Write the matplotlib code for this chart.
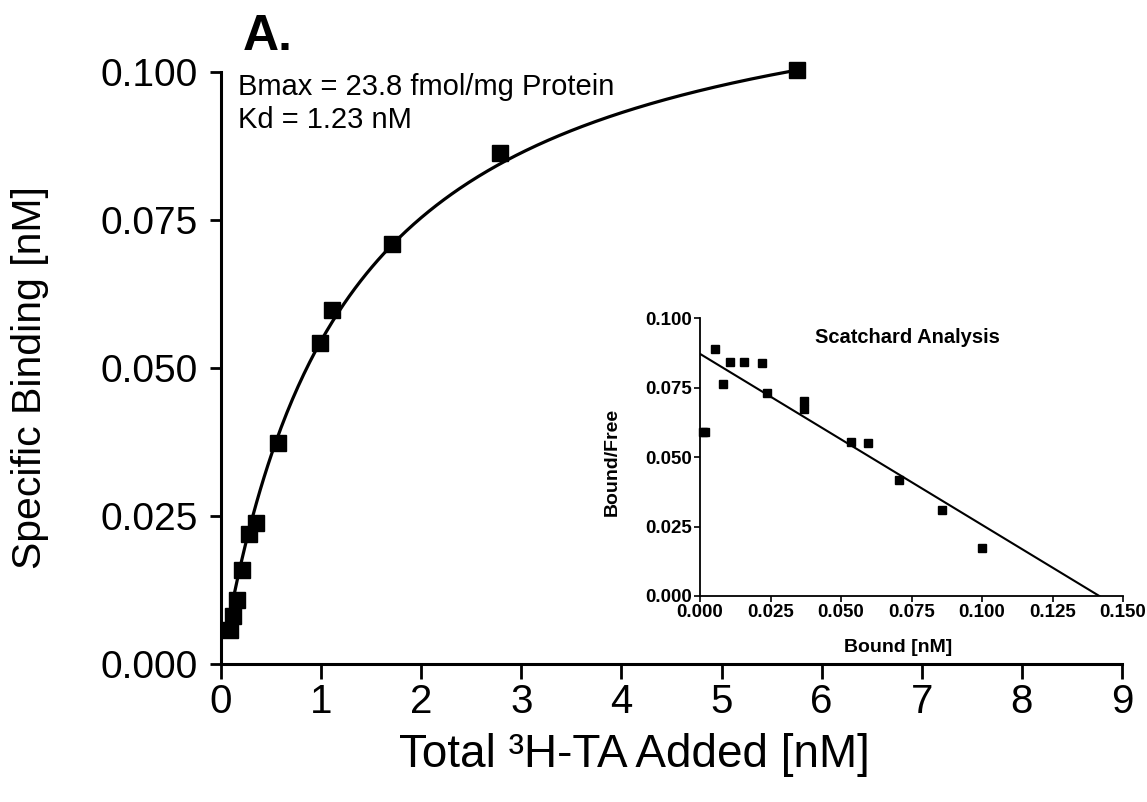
import matplotlib
matplotlib.use("Agg")
import matplotlib.pyplot as plt
import numpy as np

plt.rcParams["font.family"] = ["Liberation Sans", "DejaVu Sans"]

# saturation data (main panel)
total_added = [0.09, 0.12, 0.16, 0.21, 0.28, 0.35, 0.57, 0.99, 1.11, 1.71, 2.79, 5.75]
specific_bound = [0.0058, 0.0081, 0.0108, 0.0158, 0.0220, 0.0239, 0.0373,
                  0.0543, 0.0598, 0.0709, 0.0863, 0.1003]
kd = 1.23  # nM, from the fit text

# scatchard data (inset)
bound = [0.0009, 0.0019, 0.0054, 0.0081, 0.0107, 0.0156, 0.0219, 0.0237,
         0.0370, 0.0370, 0.0537, 0.0594, 0.0705, 0.0858, 0.1000]
bound_free = [0.0591, 0.0591, 0.0888, 0.0763, 0.0843, 0.0843, 0.0837, 0.0732,
              0.0703, 0.0673, 0.0555, 0.0549, 0.0417, 0.0309, 0.0173]
scatchard_intercept = 0.0871   # y at bound = 0
scatchard_xint = 0.1416        # bound at y = 0

x_ticks = list(range(0, 10))
y_ticks = [0.000, 0.025, 0.050, 0.075, 0.100]
inset_x_ticks = [0.000, 0.025, 0.050, 0.075, 0.100, 0.125, 0.150]
inset_y_ticks = [0.000, 0.025, 0.050, 0.075, 0.100]

# one-site fit y = B x / (Kd + x), B by least squares
xs = np.array(total_added)
ys = np.array(specific_bound)
f = xs / (kd + xs)
bmax = (f @ ys) / (f @ f)
xc = np.linspace(xs.min(), xs.max(), 300)
yc = bmax * xc / (kd + xc)

fig = plt.figure(figsize=(11.47, 8.02), dpi=100)
ax = fig.add_axes([221 / 1147, 1 - 664 / 802, 901 / 1147, 592 / 802])

ax.plot(xc, yc, color="black", lw=2.3, clip_on=False)
ax.plot(total_added, specific_bound, "s", color="black", ms=11, clip_on=False)

ax.set_xlim(0, 9)
ax.set_ylim(0, 0.1)
ax.set_xticks(x_ticks)
ax.set_yticks(y_ticks)
ax.set_yticklabels(["%.3f" % v for v in y_ticks])
for s in ["top", "right"]:
    ax.spines[s].set_visible(False)
for s in ["left", "bottom"]:
    ax.spines[s].set_linewidth(2.2)
ax.tick_params(axis="y", direction="out", length=8, width=2, labelsize=28, pad=9)
ax.tick_params(axis="x", direction="out", length=11, width=2, labelsize=29, pad=3)

fig.text(30 / 1147, 1 - 378 / 802, "Specific Binding [nM]", rotation=90,
         ha="center", va="center", fontsize=29.5)
fig.text(634 / 1147, 1 - 755 / 802, "Total \u00b3H-TA Added [nM]",
         ha="center", va="center", fontsize=33)
fig.text(243 / 1147, 1 - 50 / 802, "A.", fontsize=36, fontweight="bold",
         ha="left", va="baseline")
fig.text(238 / 1147, 1 - 95 / 802, "Bmax = 23.8 fmol/mg Protein", fontsize=21,
         ha="left", va="baseline")
fig.text(238 / 1147, 1 - 128 / 802, "Kd = 1.23 nM", fontsize=21,
         ha="left", va="baseline")

# inset: scatchard
ins = fig.add_axes([700 / 1147, 1 - 596 / 802, 423 / 1147, 278 / 802])
ins.patch.set_alpha(0)
lx = np.array([0.0, scatchard_xint])
ins.plot(lx, scatchard_intercept * (1 - lx / scatchard_xint), color="black", lw=1.5)
ins.plot(bound, bound_free, "s", color="black", ms=5.5, clip_on=False)
ins.set_xlim(0, 0.15)
ins.set_ylim(0, 0.1)
ins.set_xticks(inset_x_ticks)
ins.set_xticklabels(["%.3f" % v for v in inset_x_ticks])
ins.set_yticks(inset_y_ticks)
ins.set_yticklabels(["%.3f" % v for v in inset_y_ticks])
for s in ["top", "right"]:
    ins.spines[s].set_visible(False)
for s in ["left", "bottom"]:
    ins.spines[s].set_linewidth(1.3)
ins.tick_params(direction="out", length=4, width=1.2, labelsize=13.5, pad=2)
for lab in ins.get_xticklabels() + ins.get_yticklabels():
    lab.set_fontweight("bold")
ins.set_title("Scatchard Analysis", fontsize=14.5, fontweight="bold", y=0.88,
              x=0.49)
fig.text(612 / 1147, 1 - 462 / 802, "Bound/Free", rotation=90, ha="center",
         va="center", fontsize=14, fontweight="bold")
fig.text(898 / 1147, 1 - 648 / 802, "Bound [nM]", ha="center", va="center",
         fontsize=14, fontweight="bold")

fig.savefig("out.png", dpi=100)
